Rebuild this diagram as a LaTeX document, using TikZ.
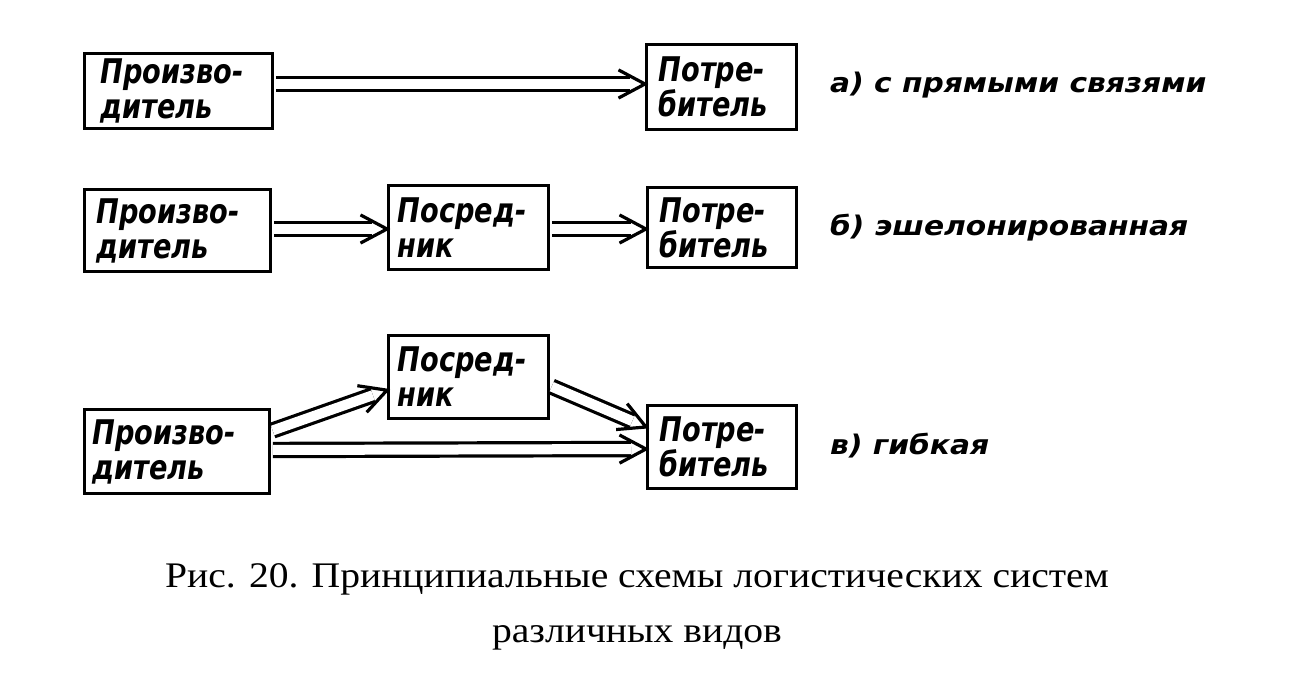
\documentclass[tikz,border=0pt]{standalone}
\usepackage{fontspec}
\setmainfont[FakeStretch=1.1]{Liberation Serif}
\newfontfamily\handfont[FakeStretch=0.8]{DejaVu Sans}
\newfontfamily\labfont[FakeStretch=1.1]{DejaVu Sans}
\usetikzlibrary{calc}
\newcommand\dblconn[2]{%
  \draw[dblline] (#1) -- ($(#2)!15pt!(#1)$);
  \draw[headline] ($(#2)!30pt!28:(#1)$) -- (#2) -- ($(#2)!30pt!-28:(#1)$);}
\begin{document}
\begin{tikzpicture}[x=1pt,y=-1pt,
  box/.style n args={3}{draw, line width=3.2pt, inner sep=0pt, anchor=north west,
    minimum width=#1, minimum height=#2, text width=#3, align=left,
    font=\handfont\bfseries\itshape\fontsize{34}{35}\selectfont},
  lab/.style={anchor=base west, inner sep=0pt, font=\labfont\bfseries\itshape\fontsize{27}{30}\selectfont},
  captext/.style={anchor=base, inner sep=0pt, font=\fontsize{36}{40}\selectfont},
  dblline/.style={line width=3.2pt, double distance=10pt, shorten <=1.6pt},
  headline/.style={line width=3.2pt, line join=miter, line cap=butt}]
\useasboundingbox (0,0) rectangle (1302,692);
% row a
\node[box={188pt}{75pt}{156pt}] (aP) at (83,52) {Произво-\\дитель};
\node[box={150pt}{85pt}{126pt}] (aC) at (645,43) {Потре-\\битель};
\node[lab] (la) at (830,93) {а) с прямыми связями};
% row b
\node[box={186pt}{82pt}{162pt}] (bP) at (83,188) {Произво-\\дитель};
\node[box={160pt}{84pt}{142pt}] (bM) at (387,184) {Посред-\\ник};
\node[box={149pt}{80pt}{125pt}] (bC) at (646,186) {Потре-\\битель};
\node[lab] (lb) at (830,236) {б) эшелонированная};
% row c
\node[box={185pt}{84pt}{169pt}] (cP) at (83,408) {Произво-\\дитель};
\node[box={160pt}{83pt}{142pt}] (cM) at (387,334) {Посред-\\ник};
\node[box={149pt}{83pt}{125pt}] (cC) at (646,404) {Потре-\\битель};
\node[lab] (lc) at (830,455) {в) гибкая};
% connector end points
\coordinate (a1s) at (aP.east |- 0,84);
\coordinate (a1t) at (aC.west |- 0,84);
\coordinate (b1s) at (bP.east |- 0,229);
\coordinate (b1t) at (bM.west |- 0,229);
\coordinate (b2s) at (bM.east |- 0,229);
\coordinate (b2t) at (bC.west |- 0,229);
\coordinate (c1s) at ($(cP.north east)+(0,23)$);
\coordinate (c1t) at ($(cM.south west)+(0,-30)$);
\coordinate (c2s) at ($(cM.north east)+(0,52)$);
\coordinate (c2t) at ($(cC.north west)+(0,23)$);
\coordinate (c3s) at ($(cP.north east)+(0,42)$);
\coordinate (c3t) at ($(cC.north west)+(0,45)$);
\dblconn{a1s}{a1t}
\dblconn{b1s}{b1t}
\dblconn{b2s}{b2t}
\dblconn{c1s}{c1t}
\dblconn{c2s}{c2t}
\dblconn{c3s}{c3t}
% caption
\node[captext] (cap1) at (637,587) {Рис. 20. Принципиальные схемы логистических систем};
\node[captext] (cap2) at (637,642) {различных видов};
\end{tikzpicture}
\end{document}
